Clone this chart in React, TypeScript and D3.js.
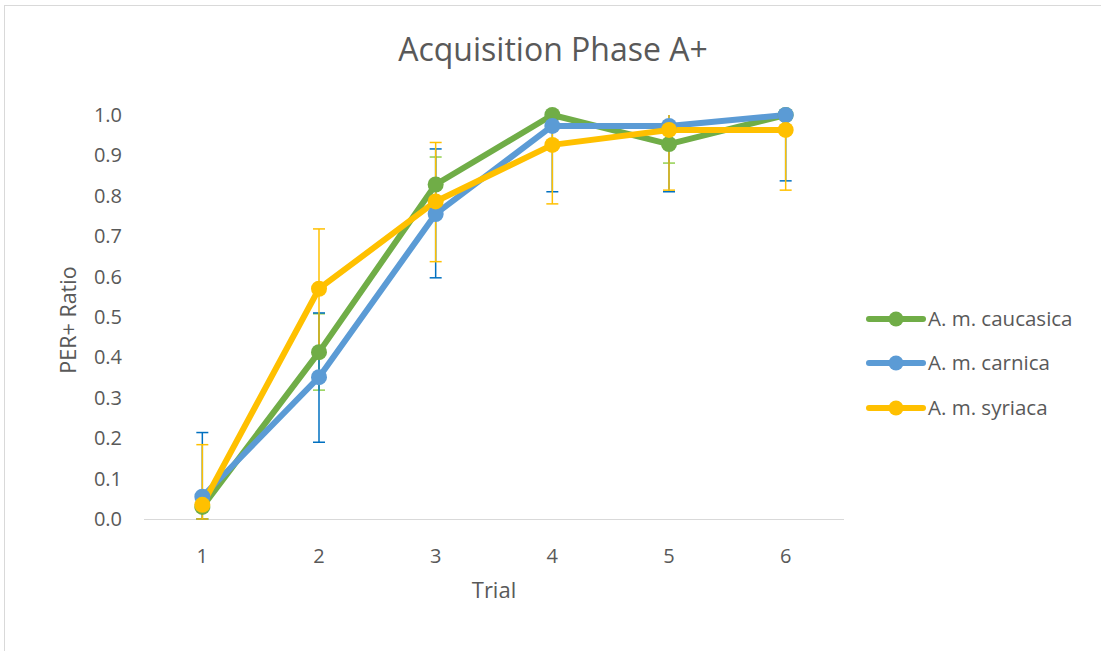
import React from "react";
import * as d3 from "d3";

const trials = ["1", "2", "3", "4", "5", "6"];
const yTicks = [0, 0.1, 0.2, 0.3, 0.4, 0.5, 0.6, 0.7, 0.8, 0.9, 1.0];

const seriesNames = ["A. m. caucasica", "A. m. carnica", "A. m. syriaca"];
const caucasica = [0.03, 0.413, 0.828, 1.0, 0.928, 1.0];
const carnica = [0.055, 0.351, 0.755, 0.973, 0.973, 1.0];
const syriaca = [0.035, 0.57, 0.786, 0.926, 0.963, 0.963];

// error bar ends (upper / lower), clipped to axis range as in the source
const caucasicaUp = [0.03, 0.508, 0.896, 1.0, 0.928, 1.0];
const caucasicaLo = [0.0, 0.319, 0.76, 1.0, 0.881, 1.0];
const carnicaUp = [0.214, 0.51, 0.916, 1.0, 1.0, 1.0];
const carnicaLo = [0.0, 0.19, 0.597, 0.81, 0.81, 0.837];
const syriacaUp = [0.184, 0.718, 0.932, 1.0, 1.0, 1.0];
const syriacaLo = [0.0, 0.42, 0.637, 0.78, 0.814, 0.814];

const lineColors = ["#70AD47", "#5B9BD5", "#FFC000"];
const errColors = ["#92D050", "#0070C0", "#FFC000"];

const W = 1101;
const H = 651;
const plot = { left: 144, right: 844, top: 115, bottom: 519 };
const FONT = "'Open Sans', 'Noto Sans', sans-serif";
const TXT = "#595959";

export default function App() {
  const x = d3.scaleBand<string>().domain(trials).range([plot.left, plot.right]);
  const y = d3.scaleLinear().domain([0, 1]).range([plot.bottom, plot.top]);
  const cx = (t: string) => (x(t) as number) + x.bandwidth() / 2;
  const line = d3
    .line<number>()
    .x((_, i) => cx(trials[i]))
    .y((d) => y(d));

  const values = [caucasica, carnica, syriaca];
  const ups = [caucasicaUp, carnicaUp, syriacaUp];
  const los = [caucasicaLo, carnicaLo, syriacaLo];

  const legendY = [319, 363, 408];

  return (
    <svg
      width={W}
      height={H}
      style={{ position: "absolute", left: 0, top: 0, background: "#fff" }}
    >
      <rect x={4.5} y={5.5} width={W + 10} height={H + 10} fill="#fff" stroke="#d9d9d9" strokeWidth={1} />
      <text x={553} y={50} dy="0.35em" textAnchor="middle" fontFamily={FONT} fontSize={32} fill={TXT}>
        Acquisition Phase A+
      </text>

      {/* y ticks */}
      {yTicks.map((t) => (
        <text
          key={t}
          x={122}
          y={y(t)}
          dy="0.35em"
          textAnchor="end"
          fontFamily={FONT}
          fontSize={20}
          fill={TXT}
        >
          {t.toFixed(1)}
        </text>
      ))}
      {/* x axis */}
      <line x1={plot.left} x2={plot.right} y1={plot.bottom + 0.5} y2={plot.bottom + 0.5} stroke="#d9d9d9" strokeWidth={1} />
      {trials.map((t) => (
        <text key={t} x={cx(t)} y={556} dy="0.35em" textAnchor="middle" fontFamily={FONT} fontSize={20} fill={TXT}>
          {t}
        </text>
      ))}
      <text x={494} y={590} dy="0.35em" textAnchor="middle" fontFamily={FONT} fontSize={22} fill={TXT}>
        Trial
      </text>
      <text
        transform={`translate(68,320) rotate(-90)`}
        textAnchor="middle"
        dy="0.35em"
        fontFamily={FONT}
        fontSize={21.5}
        fill={TXT}
      >
        PER+ Ratio
      </text>

      {/* lines */}
      {values.map((v, si) => (
        <path key={"l" + si} d={line(v) as string} fill="none" stroke={lineColors[si]} strokeWidth={6} strokeLinejoin="round" strokeLinecap="round" />
      ))}
      {/* error bars */}
      {values.map((v, si) => (
        <g key={"e" + si} stroke={errColors[si]} strokeWidth={1.5}>
          {v.map((d, i) => {
            const px = cx(trials[i]);
            const yu = y(ups[si][i]);
            const yl = y(los[si][i]);
            return (
              <g key={i}>
                <line x1={px} x2={px} y1={yu} y2={yl} />
                {ups[si][i] > d && ups[si][i] < 1 && <line x1={px - 6} x2={px + 6} y1={yu} y2={yu} />}
                {los[si][i] < d && <line x1={px - 6} x2={px + 6} y1={yl} y2={yl} />}
              </g>
            );
          })}
        </g>
      ))}
      {/* markers */}
      {values.map((v, si) => (
        <g key={"m" + si} fill={lineColors[si]}>
          {v.map((d, i) => (
            <circle key={i} cx={cx(trials[i])} cy={y(d)} r={8} />
          ))}
        </g>
      ))}

      {/* legend */}
      {seriesNames.map((n, si) => (
        <g key={n}>
          <line x1={869} x2={923} y1={legendY[si]} y2={legendY[si]} stroke={lineColors[si]} strokeWidth={6} strokeLinecap="round" />
          <circle cx={896} cy={legendY[si]} r={7.5} fill={lineColors[si]} />
          <text x={928} y={legendY[si]} dy="0.35em" fontFamily={FONT} fontSize={20.5} fill={TXT}>
            {n}
          </text>
        </g>
      ))}
    </svg>
  );
}
